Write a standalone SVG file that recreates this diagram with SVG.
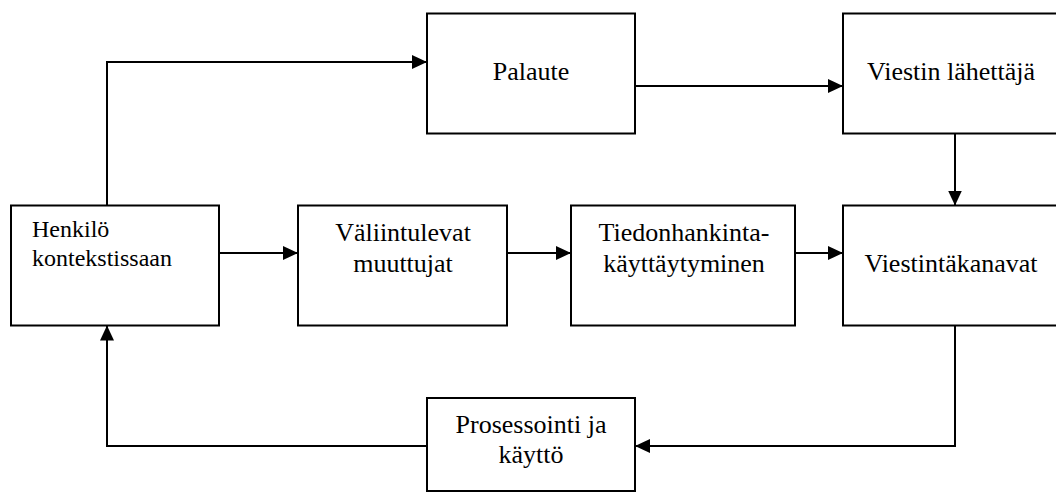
<svg xmlns="http://www.w3.org/2000/svg" width="1056" height="493" viewBox="0 0 1056 493">
  <style>
    .box { fill: #ffffff; stroke: #000000; stroke-width: 2; }
    .lbl { font-family: 'Liberation Serif', 'Times New Roman', serif; font-size: 26px; fill: #000000; text-anchor: middle; }
    .lbl-left { font-family: 'Liberation Serif', 'Times New Roman', serif; font-size: 24px; fill: #000000; }
    .edge { fill: none; stroke: #000000; stroke-width: 2; marker-end: url(#arrow); }
  </style>
  <defs>
    <marker id="arrow" markerUnits="userSpaceOnUse" markerWidth="15" markerHeight="14" refX="15" refY="7" orient="auto">
      <path d="M0,0 L15,7 L0,14 Z" fill="#000000"/>
    </marker>
  </defs>
  <rect width="1056" height="493" fill="#ffffff"/>

  <g id="connectors">
    <path class="edge" d="M107,205 V62 H427"/>
    <path class="edge" d="M635,86 H843"/>
    <path class="edge" d="M955,133.5 V205.5"/>
    <path class="edge" d="M219,253 H298"/>
    <path class="edge" d="M507,253 H571"/>
    <path class="edge" d="M795,253 H843"/>
    <path class="edge" d="M955,325.5 V446 H635"/>
    <path class="edge" d="M427,446 H107 V325.5"/>
  </g>

  <g id="henkilo">
    <rect class="box" x="11" y="205.5" width="208" height="120"/>
    <text class="lbl-left" x="32" y="237">Henkilö</text>
    <text class="lbl-left" x="32" y="266">kontekstissaan</text>
  </g>

  <g id="palaute">
    <rect class="box" x="427" y="13.5" width="208" height="120"/>
    <text class="lbl" x="531" y="80">Palaute</text>
  </g>

  <g id="viestin-lahettaja">
    <rect class="box" x="843" y="13.5" width="217" height="120"/>
    <text class="lbl" x="951" y="80">Viestin lähettäjä</text>
  </g>

  <g id="valiintulevat">
    <rect class="box" x="298" y="205.5" width="209" height="120"/>
    <text class="lbl" x="403" y="241">Väliintulevat</text>
    <text class="lbl" x="403" y="272">muuttujat</text>
  </g>

  <g id="tiedonhankinta">
    <rect class="box" x="571" y="205.5" width="224" height="120"/>
    <text class="lbl" x="684" y="241">Tiedonhankinta-</text>
    <text class="lbl" x="684" y="272">käyttäytyminen</text>
  </g>

  <g id="viestintakanavat">
    <rect class="box" x="843" y="205.5" width="217" height="120"/>
    <text class="lbl" x="951" y="272">Viestintäkanavat</text>
  </g>

  <g id="prosessointi">
    <rect class="box" x="427" y="398" width="208" height="93"/>
    <text class="lbl" x="531" y="433">Prosessointi ja</text>
    <text class="lbl" x="531" y="463">käyttö</text>
  </g>
</svg>
